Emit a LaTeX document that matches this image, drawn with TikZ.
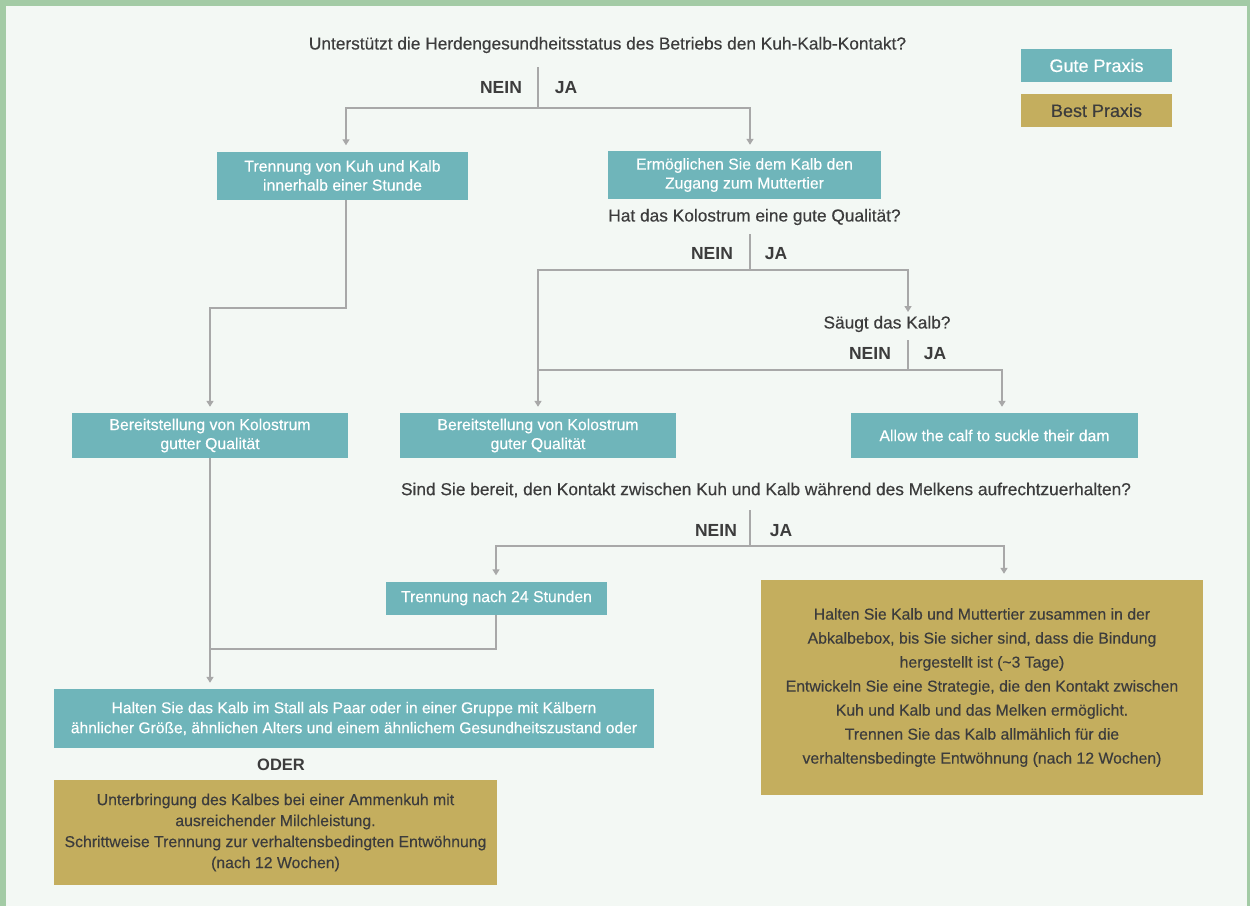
\documentclass[tikz,border=0pt]{standalone}
\usepackage{fontspec}
\setmainfont{Liberation Sans}
\newfontfamily\medfont{Liberation Sans}[FakeBold=0.35]
\usetikzlibrary{arrows.meta}
\definecolor{framec}{HTML}{A3CBA5}
\definecolor{bgc}{HTML}{F3F8F4}
\definecolor{tealc}{HTML}{6FB5BA}
\definecolor{goldc}{HTML}{C4AE5E}
\definecolor{lnc}{HTML}{A8A8A8}
\definecolor{txtc}{HTML}{3C3C3C}
\tikzset{
  goodbox/.style={fill=tealc, text=white, align=center, inner sep=0pt, font=\medfont\fontsize{15.8}{19}\selectfont},
  bestbox/.style={fill=goldc, text=txtc, align=center, inner sep=0pt, font=\medfont\fontsize{15.8}{24}\selectfont},
  quest/.style={text=txtc, inner sep=0pt, font=\medfont\fontsize{17.3}{20}\selectfont},
  yesno/.style={text=txtc, inner sep=0pt, anchor=base, font=\bfseries\fontsize{17.5}{20}\selectfont},
  conn/.style={draw=lnc, line width=2pt},
  arr/.style={conn, -{Triangle[width=7pt,length=6pt]}, shorten >=6pt},
}
\begin{document}
\begin{tikzpicture}[x=1pt,y=-1pt]
\useasboundingbox (0,0) rectangle (1250,906);
\fill[framec] (0,0) rectangle (1250,906);
\fill[bgc] (6,6) rectangle (1247,906);

% legend
\node[goodbox, minimum width=151pt, minimum height=33pt, font=\medfont\fontsize{18}{20}\selectfont] (lg) at (1096.5,65.5) {Gute Praxis};
\node[bestbox, minimum width=151pt, minimum height=33pt, font=\medfont\fontsize{18}{20}\selectfont] (lb) at (1096.5,110.5) {Best Praxis};

% question 1
\node[quest] (q1) at (607.5,45) {Unterstützt die Herdengesundheitsstatus des Betriebs den Kuh-Kalb-Kontakt?};
\node[yesno] (n1) at (501,93.5) {NEIN};
\node[yesno] (j1) at (566,93.5) {JA};
\coordinate (d1t) at (538,67);
\coordinate (d1b) at (538,108);
\coordinate (l1) at (346,108);
\coordinate (r1) at (750,108);

\node[goodbox, minimum width=251pt, minimum height=48pt] (A) at (342.5,175.5) {Trennung von Kuh und Kalb\\innerhalb einer Stunde};
\node[goodbox, minimum width=273pt, minimum height=48pt] (B) at (744.5,175) {Ermöglichen Sie dem Kalb den\\Zugang zum Muttertier};

% question 2
\node[quest] (q2) at (754.5,217) {Hat das Kolostrum eine gute Qualität?};
\node[yesno] (n2) at (712,259.5) {NEIN};
\node[yesno] (j2) at (776,259.5) {JA};
\coordinate (d2t) at (750,234);
\coordinate (d2b) at (750,270);
\coordinate (l2) at (538,270);
\coordinate (r2) at (908,270);
\coordinate (r2e) at (908,312);

% question 3
\node[quest] (q3) at (887,324) {Säugt das Kalb?};
\node[yesno] (n3) at (870,359.5) {NEIN};
\node[yesno] (j3) at (935,359.5) {JA};
\coordinate (d3t) at (908,340);
\coordinate (d3b) at (908,370);
\coordinate (l3) at (538,370);
\coordinate (r3) at (1002,370);

\coordinate (k1) at (210,308);

\node[goodbox, minimum width=276pt, minimum height=45pt] (C) at (210,435.5) {Bereitstellung von Kolostrum\\gutter Qualität};
\node[goodbox, minimum width=276pt, minimum height=45pt] (D) at (538,435.5) {Bereitstellung von Kolostrum\\guter Qualität};
\node[goodbox, minimum width=287pt, minimum height=45pt] (E) at (994.5,435.5) {Allow the calf to suckle their dam};

% question 4
\node[quest] (q4) at (766,490) {Sind Sie bereit, den Kontakt zwischen Kuh und Kalb während des Melkens aufrechtzuerhalten?};
\node[yesno] (n4) at (716,536.5) {NEIN};
\node[yesno] (j4) at (781,536.5) {JA};
\coordinate (d4t) at (750,510);
\coordinate (d4b) at (750,546);
\coordinate (l4) at (496,546);
\coordinate (r4) at (1004,546);

\node[goodbox, minimum width=221pt, minimum height=33pt] (F) at (496.5,598) {Trennung nach 24 Stunden};
\node[bestbox, minimum width=442pt, minimum height=215pt] (G) at (982,687.5) {Halten Sie Kalb und Muttertier zusammen in der\\Abkalbebox, bis Sie sicher sind, dass die Bindung\\hergestellt ist (\textasciitilde3 Tage)\\Entwickeln Sie eine Strategie, die den Kontakt zwischen\\Kuh und Kalb und das Melken ermöglicht.\\Trennen Sie das Kalb allmählich für die\\verhaltensbedingte Entwöhnung (nach 12 Wochen)};

\coordinate (k2) at (210,649);

\node[goodbox, minimum width=600pt, minimum height=59pt, font=\medfont\fontsize{15.6}{20}\selectfont] (H) at (354,718.5) {Halten Sie das Kalb im Stall als Paar oder in einer Gruppe mit Kälbern\\ähnlicher Größe, ähnlichen Alters und einem ähnlichem Gesundheitszustand oder};
\node[yesno, anchor=center, font=\bfseries\fontsize{16.5}{20}\selectfont] (oder) at (281,765) {ODER};
\node[bestbox, minimum width=443pt, minimum height=105pt, font=\medfont\fontsize{15.8}{21}\selectfont] (I) at (275.5,832.5) {Unterbringung des Kalbes bei einer Ammenkuh mit\\ausreichender Milchleistung.\\Schrittweise Trennung zur verhaltensbedingten Entwöhnung\\(nach 12 Wochen)};

% connectors
\draw[conn] (d1t) -- (d1b);
\draw[arr] (d1b) -- (l1) -- (l1 |- A.north);
\draw[arr] (d1b) -- (r1) -- (r1 |- B.north);

\draw[conn] (d2t) -- (d2b);
\draw[arr] (d2b) -- (l2) -- (l2 |- D.north);
\draw[arr, shorten >=0pt] (d2b) -- (r2) -- (r2e);

\draw[conn] (d3t) -- (d3b);
\draw[conn] (d3b) -- (l3);
\draw[arr] (d3b) -- (r3) -- (r3 |- E.north);

\draw[arr] (l1 |- A.south) -- (l1 |- k1) -- (k1) -- (k1 |- C.north);

\draw[conn] (d4t) -- (d4b);
\draw[arr] (d4b) -- (l4) -- (l4 |- F.north);
\draw[arr] (d4b) -- (r4) -- (r4 |- G.north);

\draw[arr] (C.south) -- (C.south |- H.north);
\draw[conn] (l4 |- F.south) -- (l4 |- k2) -- (k2);
\end{tikzpicture}
\end{document}
